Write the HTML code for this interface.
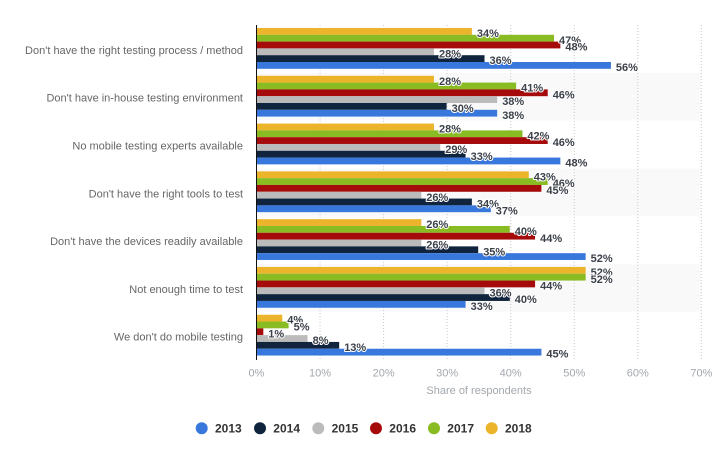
<!DOCTYPE html>
<html><head><meta charset="utf-8"><style>
html,body{margin:0;padding:0;background:#fff;}
svg{display:block;}
.cat{font-family:"Liberation Sans",Arial,sans-serif;font-size:11px;fill:#666;text-anchor:end;}
.dl{font-family:"Liberation Sans",Arial,sans-serif;font-size:11px;font-weight:bold;fill:#3b4049;stroke:#fff;stroke-width:2px;paint-order:stroke;stroke-linejoin:round;}
.tk{font-family:"Liberation Sans",Arial,sans-serif;font-size:11px;fill:#a3a8ad;text-anchor:middle;}
.lg{font-family:"Liberation Sans",Arial,sans-serif;font-size:12px;font-weight:bold;fill:#333;}
</style></head><body>
<svg width="723" height="465" viewBox="0 0 723 465" xmlns="http://www.w3.org/2000/svg">
<rect width="723" height="465" fill="#fff"/>
<!-- shaded rows -->
<rect x="257" y="72.79" width="444" height="47.79" fill="#f9f9f9"/>
<rect x="257" y="168.37" width="444" height="47.79" fill="#f9f9f9"/>
<rect x="257" y="263.95" width="444" height="47.79" fill="#f9f9f9"/>
<!-- gridlines -->
<g stroke="#c8c8c8" stroke-width="1" stroke-dasharray="1,2">
<line x1="320.05" y1="25" x2="320.05" y2="359.5"/>
<line x1="383.6" y1="25" x2="383.6" y2="359.5"/>
<line x1="447.15" y1="25" x2="447.15" y2="359.5"/>
<line x1="510.7" y1="25" x2="510.7" y2="359.5"/>
<line x1="574.25" y1="25" x2="574.25" y2="359.5"/>
<line x1="637.8" y1="25" x2="637.8" y2="359.5"/>
<line x1="701.35" y1="25" x2="701.35" y2="359.5"/>
</g>
<!-- bars -->
<g>
<!-- row 0 -->
<rect x="257" y="28" width="214.88" height="6.8" fill="#ebb42a"/>
<rect x="257" y="34.8" width="297.04" height="6.8" fill="#89bb23"/>
<rect x="257" y="41.6" width="303.36" height="6.8" fill="#a50b0b"/>
<rect x="257" y="48.4" width="176.96" height="6.8" fill="#bbbbbb"/>
<rect x="257" y="55.2" width="227.52" height="6.8" fill="#10253d"/>
<rect x="257" y="62" width="353.92" height="6.8" fill="#3878dc"/>
<!-- row 1 -->
<rect x="257" y="75.79" width="176.96" height="6.8" fill="#ebb42a"/>
<rect x="257" y="82.59" width="259.12" height="6.8" fill="#89bb23"/>
<rect x="257" y="89.39" width="290.72" height="6.8" fill="#a50b0b"/>
<rect x="257" y="96.19" width="240.16" height="6.8" fill="#bbbbbb"/>
<rect x="257" y="102.99" width="189.6" height="6.8" fill="#10253d"/>
<rect x="257" y="109.79" width="240.16" height="6.8" fill="#3878dc"/>
<!-- row 2 -->
<rect x="257" y="123.58" width="176.96" height="6.8" fill="#ebb42a"/>
<rect x="257" y="130.38" width="265.44" height="6.8" fill="#89bb23"/>
<rect x="257" y="137.18" width="290.72" height="6.8" fill="#a50b0b"/>
<rect x="257" y="143.98" width="183.28" height="6.8" fill="#bbbbbb"/>
<rect x="257" y="150.78" width="208.56" height="6.8" fill="#10253d"/>
<rect x="257" y="157.58" width="303.36" height="6.8" fill="#3878dc"/>
<!-- row 3 -->
<rect x="257" y="171.37" width="271.76" height="6.8" fill="#ebb42a"/>
<rect x="257" y="178.17" width="290.72" height="6.8" fill="#89bb23"/>
<rect x="257" y="184.97" width="284.4" height="6.8" fill="#a50b0b"/>
<rect x="257" y="191.77" width="164.32" height="6.8" fill="#bbbbbb"/>
<rect x="257" y="198.57" width="214.88" height="6.8" fill="#10253d"/>
<rect x="257" y="205.37" width="233.84" height="6.8" fill="#3878dc"/>
<!-- row 4 -->
<rect x="257" y="219.16" width="164.32" height="6.8" fill="#ebb42a"/>
<rect x="257" y="225.96" width="252.8" height="6.8" fill="#89bb23"/>
<rect x="257" y="232.76" width="278.08" height="6.8" fill="#a50b0b"/>
<rect x="257" y="239.56" width="164.32" height="6.8" fill="#bbbbbb"/>
<rect x="257" y="246.36" width="221.2" height="6.8" fill="#10253d"/>
<rect x="257" y="253.16" width="328.64" height="6.8" fill="#3878dc"/>
<!-- row 5 -->
<rect x="257" y="266.95" width="328.64" height="6.8" fill="#ebb42a"/>
<rect x="257" y="273.75" width="328.64" height="6.8" fill="#89bb23"/>
<rect x="257" y="280.55" width="278.08" height="6.8" fill="#a50b0b"/>
<rect x="257" y="287.35" width="227.52" height="6.8" fill="#bbbbbb"/>
<rect x="257" y="294.15" width="252.8" height="6.8" fill="#10253d"/>
<rect x="257" y="300.95" width="208.56" height="6.8" fill="#3878dc"/>
<!-- row 6 -->
<rect x="257" y="314.74" width="25.28" height="6.8" fill="#ebb42a"/>
<rect x="257" y="321.54" width="31.6" height="6.8" fill="#89bb23"/>
<rect x="257" y="328.34" width="6.32" height="6.8" fill="#a50b0b"/>
<rect x="257" y="335.14" width="50.56" height="6.8" fill="#bbbbbb"/>
<rect x="257" y="341.94" width="82.16" height="6.8" fill="#10253d"/>
<rect x="257" y="348.74" width="284.4" height="6.8" fill="#3878dc"/>
</g>
<!-- axis line -->
<line x1="256.5" y1="25" x2="256.5" y2="360" stroke="#111" stroke-width="1"/>
<!-- category labels -->
<text class="cat" x="243" y="53.9">Don't have the right testing process / method</text>
<text class="cat" x="243" y="101.7">Don't have in-house testing environment</text>
<text class="cat" x="243" y="149.5">No mobile testing experts available</text>
<text class="cat" x="243" y="197.3">Don't have the right tools to test</text>
<text class="cat" x="243" y="245.1">Don't have the devices readily available</text>
<text class="cat" x="243" y="292.9">Not enough time to test</text>
<text class="cat" x="243" y="340.6">We don't do mobile testing</text>
<!-- data labels -->
<text class="dl" x="476.9" y="37">34%</text>
<text class="dl" x="559" y="43.8">47%</text>
<text class="dl" x="565.4" y="50.6">48%</text>
<text class="dl" x="439" y="57.4">28%</text>
<text class="dl" x="489.5" y="64.2">36%</text>
<text class="dl" x="615.9" y="71">56%</text>

<text class="dl" x="439" y="84.79">28%</text>
<text class="dl" x="521.1" y="91.59">41%</text>
<text class="dl" x="552.7" y="98.39">46%</text>
<text class="dl" x="502.2" y="105.19">38%</text>
<text class="dl" x="451.6" y="111.99">30%</text>
<text class="dl" x="502.2" y="118.79">38%</text>

<text class="dl" x="439" y="132.58">28%</text>
<text class="dl" x="527.4" y="139.38">42%</text>
<text class="dl" x="552.7" y="146.18">46%</text>
<text class="dl" x="445.3" y="152.98">29%</text>
<text class="dl" x="470.6" y="159.78">33%</text>
<text class="dl" x="565.4" y="166.58">48%</text>

<text class="dl" x="533.8" y="180.37">43%</text>
<text class="dl" x="552.7" y="187.17">46%</text>
<text class="dl" x="546.4" y="193.97">45%</text>
<text class="dl" x="426.3" y="200.77">26%</text>
<text class="dl" x="476.9" y="207.57">34%</text>
<text class="dl" x="495.8" y="214.37">37%</text>

<text class="dl" x="426.3" y="228.16">26%</text>
<text class="dl" x="514.8" y="234.96">40%</text>
<text class="dl" x="540.1" y="241.76">44%</text>
<text class="dl" x="426.3" y="248.56">26%</text>
<text class="dl" x="483.2" y="255.36">35%</text>
<text class="dl" x="590.6" y="262.16">52%</text>

<text class="dl" x="590.6" y="275.95">52%</text>
<text class="dl" x="590.6" y="282.75">52%</text>
<text class="dl" x="540.1" y="289.55">44%</text>
<text class="dl" x="489.5" y="296.35">36%</text>
<text class="dl" x="514.8" y="303.15">40%</text>
<text class="dl" x="470.6" y="309.95">33%</text>

<text class="dl" x="287.3" y="323.74">4%</text>
<text class="dl" x="293.6" y="330.54">5%</text>
<text class="dl" x="268.3" y="337.34">1%</text>
<text class="dl" x="312.6" y="344.14">8%</text>
<text class="dl" x="344.2" y="350.94">13%</text>
<text class="dl" x="546.4" y="357.74">45%</text>
<!-- tick labels -->
<text class="tk" x="256.5" y="376.7">0%</text>
<text class="tk" x="320.05" y="376.7">10%</text>
<text class="tk" x="383.6" y="376.7">20%</text>
<text class="tk" x="447.15" y="376.7">30%</text>
<text class="tk" x="510.7" y="376.7">40%</text>
<text class="tk" x="574.25" y="376.7">50%</text>
<text class="tk" x="637.8" y="376.7">60%</text>
<text class="tk" x="701.35" y="376.7">70%</text>
<text class="tk" x="479" y="394" fill="#9ea3a8">Share of respondents</text>
<!-- legend -->
<circle cx="201.7" cy="428.3" r="6" fill="#3878dc"/>
<text class="lg" x="215" y="432.6">2013</text>
<circle cx="260" cy="428.3" r="6" fill="#10253d"/>
<text class="lg" x="273.3" y="432.6">2014</text>
<circle cx="318.3" cy="428.3" r="6" fill="#bbbbbb"/>
<text class="lg" x="331.6" y="432.6">2015</text>
<circle cx="376" cy="428.3" r="6" fill="#a50b0b"/>
<text class="lg" x="389.3" y="432.6">2016</text>
<circle cx="434" cy="428.3" r="6" fill="#89bb23"/>
<text class="lg" x="447.3" y="432.6">2017</text>
<circle cx="491.7" cy="428.3" r="6" fill="#ebb42a"/>
<text class="lg" x="505" y="432.6">2018</text>
</svg>
</body></html>
